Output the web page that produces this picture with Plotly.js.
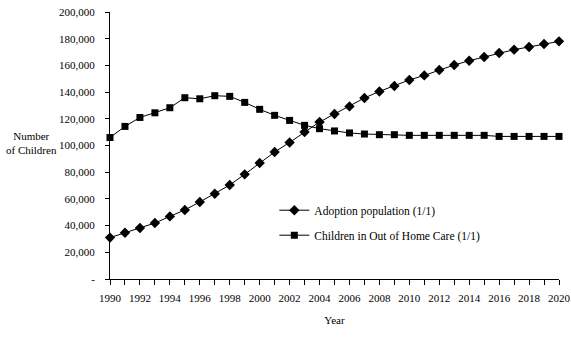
<!DOCTYPE html>
<html>
<head>
<meta charset="utf-8">
<script src="https://cdn.plot.ly/plotly-3.0.1.min.js"></script>
<style>
  html, body { margin: 0; padding: 0; background: #fff; }
  #plot { width: 571px; height: 340px; }
</style>
</head>
<body>
<div id="plot"></div>
<script>
const years = [
  1990, 1991, 1992, 1993, 1994, 1995, 1996, 1997, 1998, 1999, 2000,
  2001, 2002, 2003, 2004, 2005, 2006, 2007, 2008, 2009, 2010,
  2011, 2012, 2013, 2014, 2015, 2016, 2017, 2018, 2019, 2020
];

const adoption = [
  31000, 34700, 38200, 41900, 46900, 51700, 57700, 63900, 70400, 78400, 86900,
  95100, 102300, 110100, 117600, 123600, 129300, 135600, 140500, 144600, 149100,
  152500, 156600, 160300, 163500, 166300, 169300, 171800, 173800, 176000, 178000
];

const outOfHome = [
  106000, 114300, 121000, 124500, 128300, 135800, 135000, 137300, 136800, 132300, 127100,
  122600, 118800, 115100, 112600, 110900, 109400, 108600, 108100, 108100, 107600,
  107600, 107600, 107600, 107600, 107600, 106800, 106800, 106800, 106800, 106800
];

const yTickVals = [0, 20000, 40000, 60000, 80000, 100000, 120000, 140000, 160000, 180000, 200000];
const yTickText = ['-', '20,000', '40,000', '60,000', '80,000', '100,000', '120,000', '140,000', '160,000', '180,000', '200,000'];

// every year gets a tick, only even years get a label
const xTickText = years.map(y => (y % 2 === 0 ? String(y) : ''));

const font = { family: 'Liberation Serif, Times New Roman, serif', size: 11, color: '#000' };
const legendFont = { family: 'Liberation Serif, Times New Roman, serif', size: 11.5, color: '#000' };

const traces = [
  {
    x: years,
    y: adoption,
    mode: 'lines+markers',
    type: 'scatter',
    name: 'Adoption population (1/1)',
    legendgroup: 'a',
    cliponaxis: false,
    line: { color: '#000', width: 1 },
    marker: { symbol: 'diamond', size: 8, color: '#000' }
  },
  {
    x: years,
    y: outOfHome,
    mode: 'lines+markers',
    type: 'scatter',
    name: 'Children in Out of Home Care (1/1)',
    legendgroup: 'b',
    cliponaxis: false,
    line: { color: '#000', width: 1 },
    marker: { symbol: 'square', size: 7, color: '#000' }
  }
];

const layout = {
  width: 571,
  height: 340,
  margin: { l: 110, r: 12, t: 12, b: 61 },
  paper_bgcolor: '#fff',
  plot_bgcolor: '#fff',
  font: font,
  showlegend: true,
  legend: {
    x: 0.366, y: 0.312, xanchor: 'left', yanchor: 'top',
    bgcolor: 'rgba(0,0,0,0)',
    traceorder: 'grouped',
    tracegroupgap: 6,
    font: legendFont
  },
  xaxis: {
    range: [1990, 2020],
    tickvals: years,
    ticktext: xTickText,
    ticks: 'outside',
    ticklen: 5,
    tickcolor: '#000',
    tickwidth: 1,
    showline: true,
    linecolor: '#000',
    linewidth: 1,
    showgrid: false,
    zeroline: false,
    tickangle: 0,
    ticklabelstandoff: 4,
    title: { text: 'Year', font: font, standoff: 13 }
  },
  yaxis: {
    range: [0, 200000],
    tickvals: yTickVals,
    ticktext: yTickText,
    ticks: 'outside',
    ticklen: 4,
    tickcolor: '#000',
    tickwidth: 1,
    showline: true,
    linecolor: '#000',
    linewidth: 1,
    showgrid: false,
    zeroline: false,
    ticklabelstandoff: 8
  },
  annotations: [
    {
      text: 'Number<br>of Children',
      xref: 'paper', yref: 'paper',
      x: -0.174, y: 0.509,
      xanchor: 'center', yanchor: 'middle',
      showarrow: false,
      align: 'center',
      font: font
    }
  ]
};

Plotly.newPlot('plot', traces, layout, { displayModeBar: false, staticPlot: true });
</script>
</body>
</html>
